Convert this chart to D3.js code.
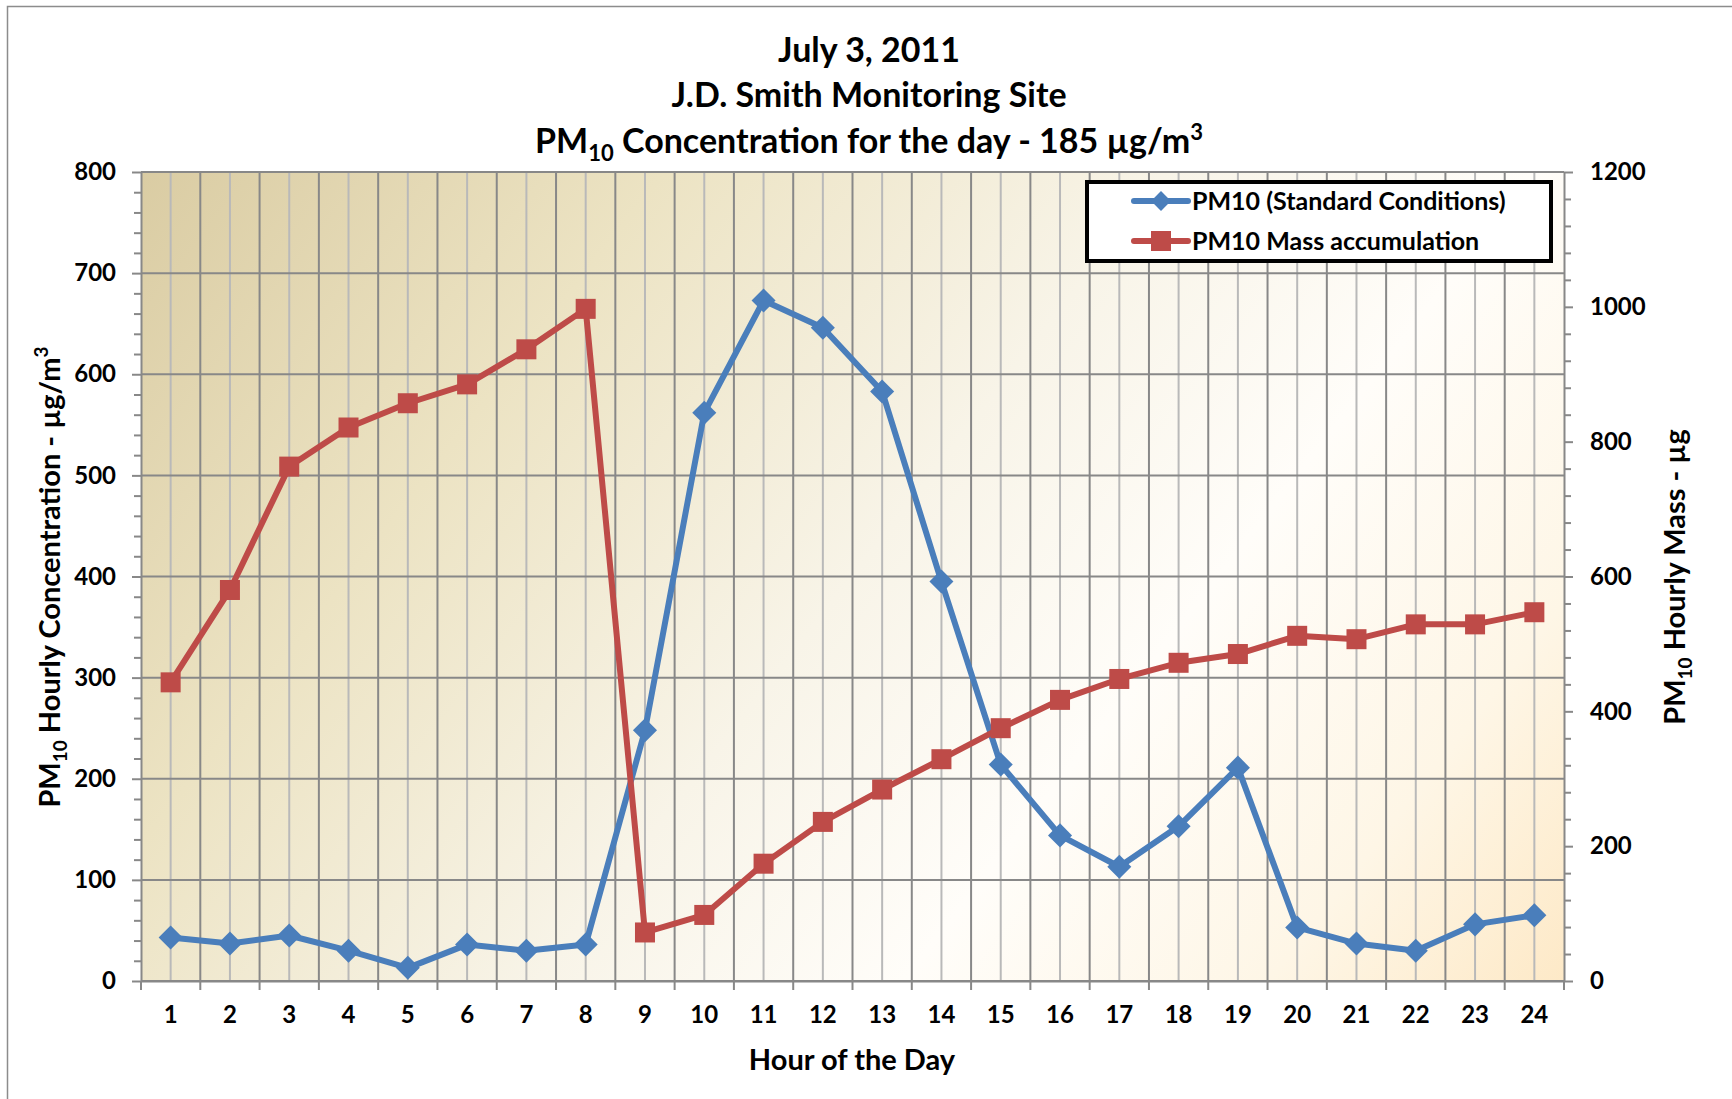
<!DOCTYPE html>
<html>
<head>
<meta charset="utf-8">
<script src="https://cdn.jsdelivr.net/npm/d3@7"></script>
<style>
  html, body { margin: 0; padding: 0; background: #ffffff; }
  svg text { font-family: Lato, "Open Sans", "DejaVu Sans", sans-serif; font-weight: 700; fill: #000; }
</style>
</head>
<body>
<svg id="chart" width="1732" height="1099"></svg>
<script>
// ---- data ----
const hours = ["1","2","3","4","5","6","7","8","9","10","11","12","13","14","15","16","17","18","19","20","21","22","23","24"];
const pm10Standard = [43,37,45,30,13,36,30,36,248,562,673,646,583,395,214,144,113,153,211,53,37,30,56,65];
const pm10Mass = [443,580,763,821,857,885,937,997,72,98,174,236,284,329,375,417,448,472,485,512,507,529,529,547];
const leftTicks = [0,100,200,300,400,500,600,700,800];
const rightTicks = [0,200,400,600,800,1000,1200];
const seriesNames = ["PM10 (Standard Conditions)", "PM10 Mass accumulation"];

// ---- layout ----
const svg = d3.select("#chart");
const L = 141, R = 1564, T = 172, B = 981;
const blue = "#4a7ebb", red = "#be4b48";

// outer frame
svg.append("rect").attr("x", 7.5).attr("y", 6.5).attr("width", 1800).attr("height", 1200)
  .attr("fill", "#fff").attr("stroke", "#8c8c8c").attr("stroke-width", 1.5);

// gradient background of plot area
const defs = svg.append("defs");
const grad = defs.append("linearGradient").attr("id", "bg")
  .attr("gradientUnits", "userSpaceOnUse")
  .attr("x1", L).attr("y1", T - 150).attr("x2", R).attr("y2", B + 150);
[[0, "#d6c79c"], [0.28, "#ece3c3"], [0.5, "#f8f4e8"], [0.66, "#fffdf9"], [0.82, "#fef6e6"], [1, "#fde4bb"]]
  .forEach(([o, c]) => grad.append("stop").attr("offset", o).attr("stop-color", c));
svg.append("rect").attr("x", L).attr("y", T).attr("width", R - L).attr("height", B - T).attr("fill", "url(#bg)");

// scales
const x = d3.scaleBand().domain(hours).range([L, R]).padding(0);
const yL = d3.scaleLinear().domain([0, 800]).range([B, T]);
const yR = d3.scaleLinear().domain([0, 1200]).range([B, T]);
const cx = d => x(d) + x.bandwidth() / 2;

// vertical gridlines: category centers (light) and boundaries (darker)
const grid = svg.append("g");
grid.selectAll(".vc").data(hours).enter().append("line")
  .attr("x1", d => cx(d)).attr("x2", d => cx(d)).attr("y1", T).attr("y2", B)
  .attr("stroke", "#b9b9b9").attr("stroke-width", 2);
grid.selectAll(".vb").data(hours.slice(1)).enter().append("line")
  .attr("x1", d => x(d)).attr("x2", d => x(d)).attr("y1", T).attr("y2", B)
  .attr("stroke", "#888888").attr("stroke-width", 2);
// horizontal major gridlines
grid.selectAll(".h").data(leftTicks).enter().append("line")
  .attr("x1", L).attr("x2", R).attr("y1", d => yL(d)).attr("y2", d => yL(d))
  .attr("stroke", "#888888").attr("stroke-width", 2);

// axes
const axisStyle = g => {
  g.select(".domain").attr("stroke", "#888888").attr("stroke-width", 2);
  g.selectAll(".tick line").attr("stroke", "#888888").attr("stroke-width", 2);
  g.selectAll("text").style("font-size", "24px").style("font-weight", 700)
    .style("font-family", "Lato, 'Open Sans', sans-serif").attr("fill", "#000");
};
// left minor ticks
const leftMinor = d3.range(0, 801, 20).filter(v => v % 100 !== 0);
svg.append("g").attr("transform", `translate(${L},0)`)
  .call(d3.axisLeft(yL).tickValues(leftMinor).tickSize(7).tickFormat(""))
  .call(g => { g.select(".domain").remove(); g.selectAll("line").attr("stroke", "#888").attr("stroke-width", 2); });
svg.append("g").attr("transform", `translate(${L},0)`)
  .call(d3.axisLeft(yL).tickValues(leftTicks).tickSize(9).tickPadding(16).tickSizeOuter(0).tickFormat(d3.format("d")))
  .call(axisStyle);

// right minor ticks
const rightMinor = d3.range(0, 1201, 40).filter(v => v % 200 !== 0);
svg.append("g").attr("transform", `translate(${R},0)`)
  .call(d3.axisRight(yR).tickValues(rightMinor).tickSize(7).tickFormat(""))
  .call(g => { g.select(".domain").remove(); g.selectAll("line").attr("stroke", "#888").attr("stroke-width", 2); });
svg.append("g").attr("transform", `translate(${R},0)`)
  .call(d3.axisRight(yR).tickValues(rightTicks).tickSize(9).tickPadding(17).tickSizeOuter(0).tickFormat(d3.format("d")))
  .call(axisStyle);

// bottom axis: labels at centers, ticks at boundaries
const xAxisG = svg.append("g").attr("transform", `translate(0,${B})`)
  .call(d3.axisBottom(x).tickSize(0).tickPadding(25).tickSizeOuter(0))
  .call(axisStyle);
xAxisG.selectAll(".bt").data(hours.concat(["end"])).enter().append("line")
  .attr("x1", d => d === "end" ? R : x(d)).attr("x2", d => d === "end" ? R : x(d))
  .attr("y1", 0).attr("y2", 9).attr("stroke", "#888").attr("stroke-width", 2);

// lines
const lineL = d3.line().x((d, i) => cx(hours[i])).y(d => yL(d));
const lineR = d3.line().x((d, i) => cx(hours[i])).y(d => yR(d));

svg.append("path").datum(pm10Standard).attr("d", lineL)
  .attr("fill", "none").attr("stroke", blue).attr("stroke-width", 6).attr("stroke-linejoin", "round");
svg.selectAll(".dm").data(pm10Standard).enter().append("rect")
  .attr("x", -8.5).attr("y", -8.5).attr("width", 17).attr("height", 17)
  .attr("fill", blue)
  .attr("transform", (d, i) => `translate(${cx(hours[i])},${yL(d)}) rotate(45)`);

svg.append("path").datum(pm10Mass).attr("d", lineR)
  .attr("fill", "none").attr("stroke", red).attr("stroke-width", 6).attr("stroke-linejoin", "round");
svg.selectAll(".sq").data(pm10Mass).enter().append("rect")
  .attr("x", (d, i) => cx(hours[i]) - 10).attr("y", d => yR(d) - 10)
  .attr("width", 20).attr("height", 20).attr("fill", red);

// title
const TX = 869;
const title = svg.append("g").attr("text-anchor", "middle");
title.append("text").attr("x", TX).attr("y", 62).style("font-size", "34px").text("July 3, 2011");
title.append("text").attr("x", TX).attr("y", 107).style("font-size", "34px").text("J.D. Smith Monitoring Site");
const t3 = title.append("text").attr("x", TX).attr("y", 153).style("font-size", "34px");
t3.append("tspan").text("PM");
t3.append("tspan").attr("dy", 8).style("font-size", "22px").text("10");
t3.append("tspan").attr("dy", -8).text(" Concentration for the day - 185 µg/m");
t3.append("tspan").attr("dy", -13).style("font-size", "22px").text("3");

// x axis title
svg.append("text").attr("x", 852).attr("y", 1070).attr("text-anchor", "middle")
  .style("font-size", "29px").text("Hour of the Day");

// left axis title
const lt = svg.append("text").attr("text-anchor", "middle")
  .attr("transform", `translate(60,577) rotate(-90)`).style("font-size", "29px");
lt.append("tspan").text("PM");
lt.append("tspan").attr("dy", 7).style("font-size", "19px").text("10");
lt.append("tspan").attr("dy", -7).text(" Hourly Concentration - µg/m");
lt.append("tspan").attr("dy", -12).style("font-size", "19px").text("3");

// right axis title
const rt = svg.append("text").attr("text-anchor", "middle")
  .attr("transform", `translate(1685,577) rotate(-90)`).style("font-size", "29px");
rt.append("tspan").text("PM");
rt.append("tspan").attr("dy", 7).style("font-size", "19px").text("10");
rt.append("tspan").attr("dy", -7).text(" Hourly Mass - µg");

// legend
const lg = svg.append("g");
lg.append("rect").attr("x", 1087).attr("y", 182).attr("width", 464).attr("height", 79)
  .attr("fill", "#fff").attr("stroke", "#000").attr("stroke-width", 4);
const legItems = [{name: seriesNames[0], color: blue, shape: "diamond"}, {name: seriesNames[1], color: red, shape: "square"}];
legItems.forEach((it, i) => {
  const yy = 201 + i * 40;
  lg.append("line").attr("x1", 1134).attr("x2", 1188).attr("y1", yy).attr("y2", yy)
    .attr("stroke", it.color).attr("stroke-width", 6).attr("stroke-linecap", "round");
  if (it.shape === "diamond") {
    lg.append("rect").attr("x", -7).attr("y", -7).attr("width", 14).attr("height", 14).attr("fill", it.color)
      .attr("transform", `translate(1161,${yy}) rotate(45)`);
  } else {
    lg.append("rect").attr("x", 1151).attr("y", yy - 10).attr("width", 20).attr("height", 20).attr("fill", it.color);
  }
  lg.append("text").attr("x", 1192).attr("y", yy + 9).style("font-size", "25px").text(it.name);
});
</script>
</body>
</html>
